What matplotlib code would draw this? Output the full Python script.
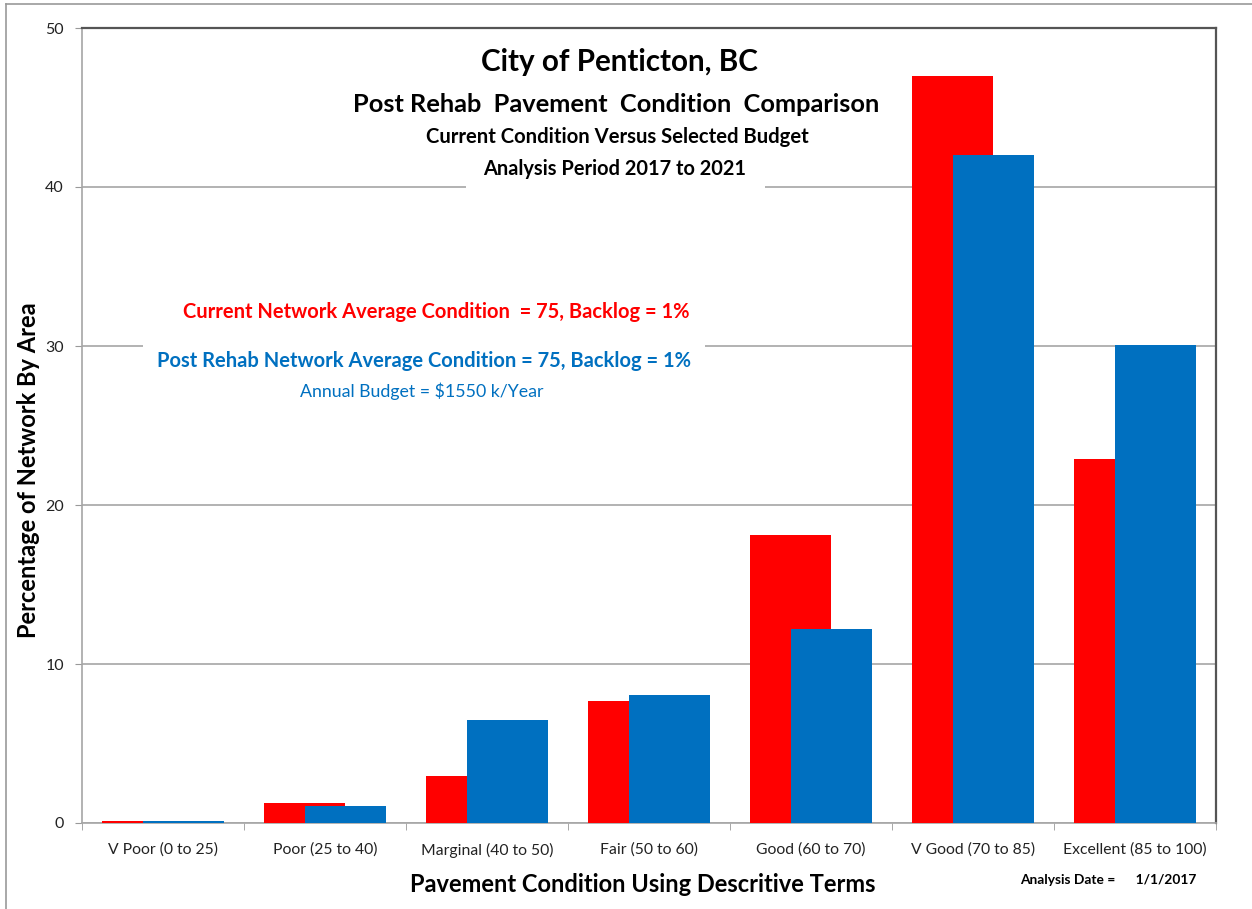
import matplotlib
matplotlib.use("Agg")
import matplotlib.pyplot as plt
import numpy as np
from matplotlib.lines import Line2D

categories = ["V Poor (0 to 25)", "Poor (25 to 40)", "Marginal (40 to 50)", "Fair (50 to 60)",
              "Good (60 to 70)", "V Good (70 to 85)", "Excellent (85 to 100)"]
current = [0.1, 1.25, 2.95, 7.7, 18.1, 47.0, 22.9]
post_rehab = [0.1, 1.1, 6.5, 8.05, 12.2, 42.0, 30.05]
y_ticks = [0, 10, 20, 30, 40, 50]

RED = "#FF0000"
BLUE = "#0070C0"
FONT = "Lato"
plt.rcParams['font.family'] = [FONT, 'DejaVu Sans']

W, H = 1252, 909
fig = plt.figure(figsize=(W / 100, H / 100), dpi=100)
ax = fig.add_axes([82 / W, 1 - 823 / H, (1216 - 82) / W, (823 - 28) / H])

x = np.arange(len(categories))
bw = 0.5
ax.bar(x - 0.125, current, width=bw, color=RED, zorder=3, linewidth=0)
ax.bar(x + 0.125, post_rehab, width=bw, color=BLUE, zorder=4, linewidth=0)

ax.set_xlim(-0.5, len(categories) - 0.5)
ax.set_ylim(0, 50)
ax.set_yticks(y_ticks)
ax.set_yticklabels([str(v) for v in y_ticks], fontsize=11.5, color="#222222")
ax.set_xticks(x)
ax.set_xticklabels(categories, fontsize=11.3, color="#222222")
ax.tick_params(axis='x', length=0, pad=14)
ax.set_xticks(np.arange(-0.5, len(categories), 1), minor=True)
ax.tick_params(axis='x', which='minor', length=5, color="#999999", direction='out')
ax.tick_params(axis='y', length=5, color="#999999", direction='out', pad=8)

ax.yaxis.grid(True, color="#a6a6a6", linewidth=1.2, zorder=0)
ax.set_axisbelow(True)
for s in ['left', 'bottom']:
    ax.spines[s].set_color("#a6a6a6")
    ax.spines[s].set_linewidth(1.2)
for s in ['top', 'right']:
    ax.spines[s].set_color("#555555")
    ax.spines[s].set_linewidth(1.6)

def ftext(px, py, s, **kw):
    return fig.text(px / W, 1 - py / H, s, ha='center', va='center', **kw)

ftext(619, 62, "City of Penticton, BC", fontsize=21.3, fontweight='bold', color='black')
ftext(616, 105, "Post Rehab  Pavement  Condition  Comparison", fontsize=18.3, fontweight='bold', color='black')
ftext(617, 137, "Current Condition Versus Selected Budget", fontsize=14.6, fontweight='bold', color='black', zorder=6)
ftext(615, 169, "Analysis Period 2017 to 2021", fontsize=14.4, fontweight='bold', color='black', zorder=5,
      bbox=dict(facecolor='white', edgecolor='none', boxstyle='square,pad=0.9'))
ftext(436, 312, "Current Network Average Condition  = 75, Backlog = 1%", fontsize=14.5, fontweight='bold', color=RED, zorder=6)
ftext(424, 361, "Post Rehab Network Average Condition = 75, Backlog = 1%", fontsize=14.5, fontweight='bold',
      color=BLUE, zorder=5, bbox=dict(facecolor='white', edgecolor='none', boxstyle='square,pad=0.7'))
ftext(422, 391, "Annual Budget = $1550 k/Year", fontsize=12.8, color=BLUE, zorder=6)

ftext(29, 470, "Percentage of Network By Area", fontsize=17, fontweight='bold', color='black', rotation=90)
ftext(643, 884, "Pavement Condition Using Descritive Terms", fontsize=17, fontweight='bold', color='black')
ftext(1108, 880, "Analysis Date =      1/1/2017", fontsize=9.9, fontweight='bold', color='black')

fig.add_artist(Line2D([6 / W, 6 / W], [0, 1 - 4 / H], transform=fig.transFigure, color="#999999", lw=1.2))
fig.add_artist(Line2D([6 / W, 1], [1 - 4 / H, 1 - 4 / H], transform=fig.transFigure, color="#999999", lw=1.2))

fig.savefig("out.png", dpi=100)
